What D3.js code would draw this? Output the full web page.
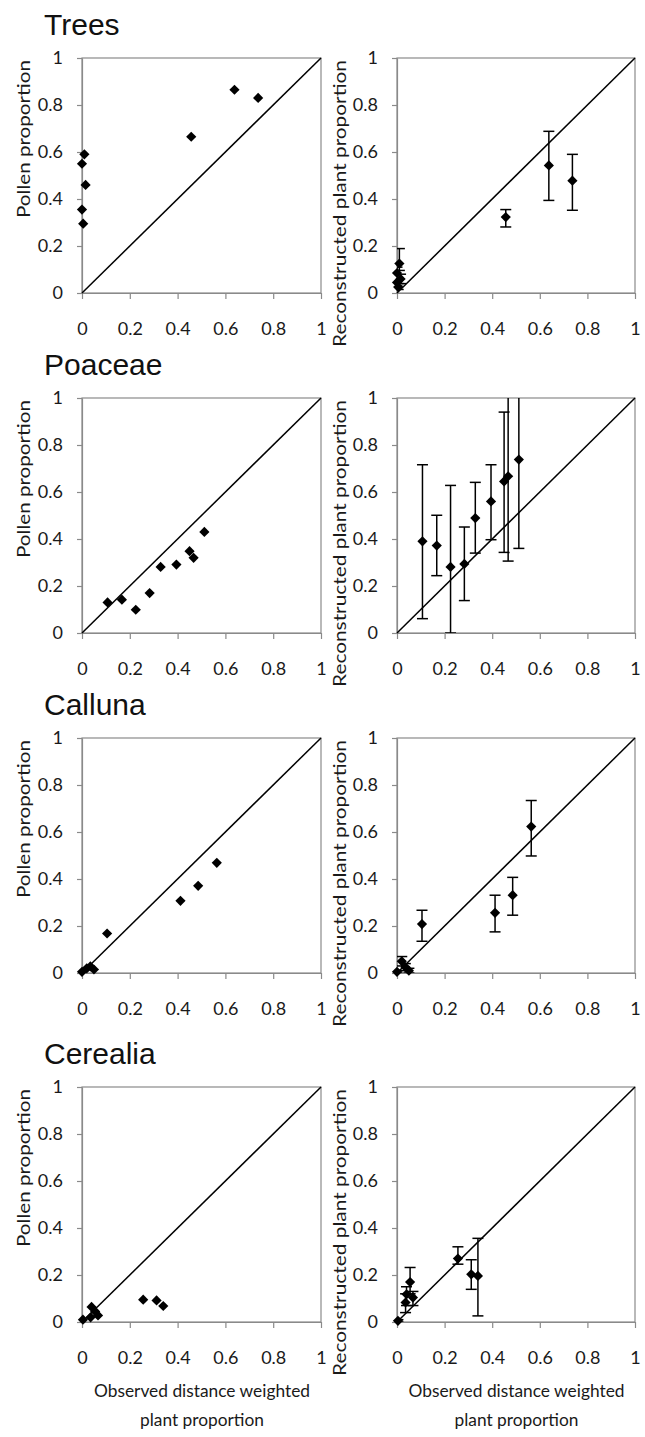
<!DOCTYPE html>
<html><head><meta charset="utf-8">
<script src="https://cdn.jsdelivr.net/npm/d3@7"></script>
<style>body{margin:0;background:#fff} svg{display:block}</style>
</head><body>
<svg id="c" width="645" height="1437"></svg>
<script>
// ---------- data ----------
const taxa = ["Trees", "Poaceae", "Calluna", "Cerealia"];

const treesObs    = [0.010, 0.000, 0.015, 0.000, 0.005, 0.457, 0.638, 0.737];
const treesPollen = [0.590, 0.550, 0.460, 0.355, 0.295, 0.665, 0.865, 0.830];
const treesRecon  = [0.125, 0.085, 0.060, 0.045, 0.025, 0.323, 0.543, 0.478];
const treesLo     = [0.096, 0.060, 0.040, 0.030, 0.015, 0.281, 0.394, 0.352];
const treesHi     = [0.189, 0.110, 0.080, 0.060, 0.040, 0.355, 0.688, 0.590];

const poaceaeObs    = [0.107, 0.167, 0.225, 0.283, 0.329, 0.395, 0.450, 0.467, 0.512];
const poaceaePollen = [0.130, 0.142, 0.099, 0.170, 0.281, 0.291, 0.348, 0.320, 0.430];
const poaceaeRecon  = [0.390, 0.372, 0.281, 0.294, 0.489, 0.560, 0.645, 0.667, 0.738];
const poaceaeLo     = [0.061, 0.244, 0.000, 0.138, 0.340, 0.397, 0.343, 0.306, 0.360];
const poaceaeHi     = [0.716, 0.501, 0.628, 0.451, 0.641, 0.716, 0.940, 1.050, 1.050];

const callunaObs    = [0.000, 0.020, 0.035, 0.050, 0.105, 0.412, 0.486, 0.564];
const callunaPollen = [0.005, 0.020, 0.028, 0.015, 0.168, 0.307, 0.371, 0.469];
const callunaRecon  = [0.005, 0.050, 0.025, 0.010, 0.208, 0.256, 0.331, 0.623];
const callunaLo     = [0.000, 0.030, 0.010, 0.000, 0.135, 0.175, 0.246, 0.498];
const callunaHi     = [0.010, 0.070, 0.040, 0.020, 0.267, 0.331, 0.407, 0.734];

const cerealiaObs    = [0.004, 0.036, 0.040, 0.055, 0.067, 0.256, 0.312, 0.340];
const cerealiaPollen = [0.010, 0.020, 0.064, 0.045, 0.028, 0.095, 0.092, 0.068];
const cerealiaRecon  = [0.005, 0.083, 0.118, 0.170, 0.104, 0.270, 0.203, 0.196];
const cerealiaLo     = [0.000, 0.040, 0.070, 0.120, 0.070, 0.246, 0.139, 0.026];
const cerealiaHi     = [0.010, 0.120, 0.150, 0.232, 0.130, 0.320, 0.265, 0.356];

const tickValues = [0, 0.2, 0.4, 0.6, 0.8, 1];
const tickLabels = ["0", "0.2", "0.4", "0.6", "0.8", "1"];
const leftYLabel = "Pollen proportion";
const rightYLabel = "Reconstructed plant proportion";
const xLabelLines = ["Observed distance weighted", "plant proportion"];

const series = [
  [treesObs, treesPollen, treesRecon, treesLo, treesHi],
  [poaceaeObs, poaceaePollen, poaceaeRecon, poaceaeLo, poaceaeHi],
  [callunaObs, callunaPollen, callunaRecon, callunaLo, callunaHi],
  [cerealiaObs, cerealiaPollen, cerealiaRecon, cerealiaLo, cerealiaHi]
];

// ---------- layout ----------
const svg = d3.select("#c");
const cols = [[82, 321], [397, 635]];
const rowTop = [58, 398, 738, 1087];
const H = 235;
const GRAY = "#8a8a8a";
const TXT = "#1a1a1a";
const FONT = "Lato, 'Open Sans', sans-serif";

const diamond = d3.symbol().type(d3.symbolSquare).size(52);

series.forEach((s, r) => {
  const [obs, pollen, recon, lo, hi] = s;
  const top = rowTop[r], bottom = top + H;

  // title
  svg.append("text")
    .attr("x", 44).attr("y", top - 23)
    .attr("font-family", "'Liberation Sans', Arial, sans-serif")
    .attr("font-size", 30).attr("fill", "#111")
    .text(taxa[r]);

  cols.forEach((c, ci) => {
    const x = d3.scaleLinear().domain([0, 1]).range(c);
    const y = d3.scaleLinear().domain([0, 1]).range([bottom, top]);
    const g = svg.append("g");
    const clipId = `clip${r}_${ci}`;
    g.append("clipPath").attr("id", clipId)
      .append("rect").attr("x", c[0]).attr("y", top).attr("width", c[1] - c[0]).attr("height", H);

    // frame
    g.append("rect")
      .attr("x", x(0)).attr("y", y(1))
      .attr("width", x(1) - x(0)).attr("height", y(0) - y(1))
      .attr("fill", "none").attr("stroke", GRAY).attr("stroke-width", 1.2);

    // axes
    const ax = g.append("g").attr("transform", `translate(0,${bottom})`)
      .call(d3.axisBottom(x).tickValues(tickValues).tickFormat((d, i) => tickLabels[i]).tickSize(6).tickSizeOuter(0));
    ax.selectAll("text").attr("y", 42).attr("dy", "0");
    const ay = g.append("g").attr("transform", `translate(${c[0]},0)`)
      .call(d3.axisLeft(y).tickValues(tickValues).tickFormat((d, i) => tickLabels[i]).tickSize(5).tickSizeOuter(0).tickPadding(14));
    [ax, ay].forEach(a => {
      a.select(".domain").attr("stroke", GRAY).attr("stroke-width", 1.2);
      a.selectAll(".tick line").attr("stroke", GRAY).attr("stroke-width", 1.2);
      a.selectAll("text").attr("font-family", FONT).attr("font-size", 18).attr("fill", TXT);
    });

    // 1:1 line
    g.append("line")
      .attr("x1", x(0)).attr("y1", y(0)).attr("x2", x(1)).attr("y2", y(1))
      .attr("stroke", "#000").attr("stroke-width", 1.5);

    const yVals = ci === 0 ? pollen : recon;

    // error bars
    if (ci === 1) {
      const eb = g.append("g").attr("clip-path", `url(#${clipId})`)
        .attr("stroke", "#000").attr("stroke-width", 1.5);
      obs.forEach((v, i) => {
        const cx = x(v);
        eb.append("line").attr("x1", cx).attr("x2", cx).attr("y1", y(lo[i])).attr("y2", y(hi[i]));
        eb.append("line").attr("x1", cx - 5.5).attr("x2", cx + 5.5).attr("y1", y(lo[i])).attr("y2", y(lo[i]));
        eb.append("line").attr("x1", cx - 5.5).attr("x2", cx + 5.5).attr("y1", y(hi[i])).attr("y2", y(hi[i]));
      });
    }

    // markers
    g.append("g").selectAll("path").data(obs).join("path")
      .attr("d", diamond)
      .attr("transform", (v, i) => `translate(${x(v)},${y(yVals[i])}) rotate(45)`)
      .attr("fill", "#000");

    // y label
    const lx = ci === 0 ? 30 : 346;
    g.append("text")
      .attr("transform", `translate(${lx},${top + 2}) rotate(-90)`)
      .attr("text-anchor", "end")
      .attr("font-family", FONT).attr("font-size", 17).attr("fill", TXT)
      .attr("textLength", ci === 0 ? 158 : 287)
      .attr("lengthAdjust", "spacingAndGlyphs")
      .text(ci === 0 ? leftYLabel : rightYLabel);
  });
});

// x-axis titles under bottom row
cols.forEach(c => {
  const cx = (c[0] + c[1]) / 2 + 0.5;
  const widths = [216, 124];
  const ys = [1397, 1426];
  xLabelLines.forEach((t, i) => {
    svg.append("text")
      .attr("x", cx).attr("y", ys[i]).attr("text-anchor", "middle")
      .attr("font-family", FONT).attr("font-size", 17).attr("fill", TXT)
      .attr("textLength", widths[i]).attr("lengthAdjust", "spacingAndGlyphs")
      .text(t);
  });
});
</script>
</body></html>
